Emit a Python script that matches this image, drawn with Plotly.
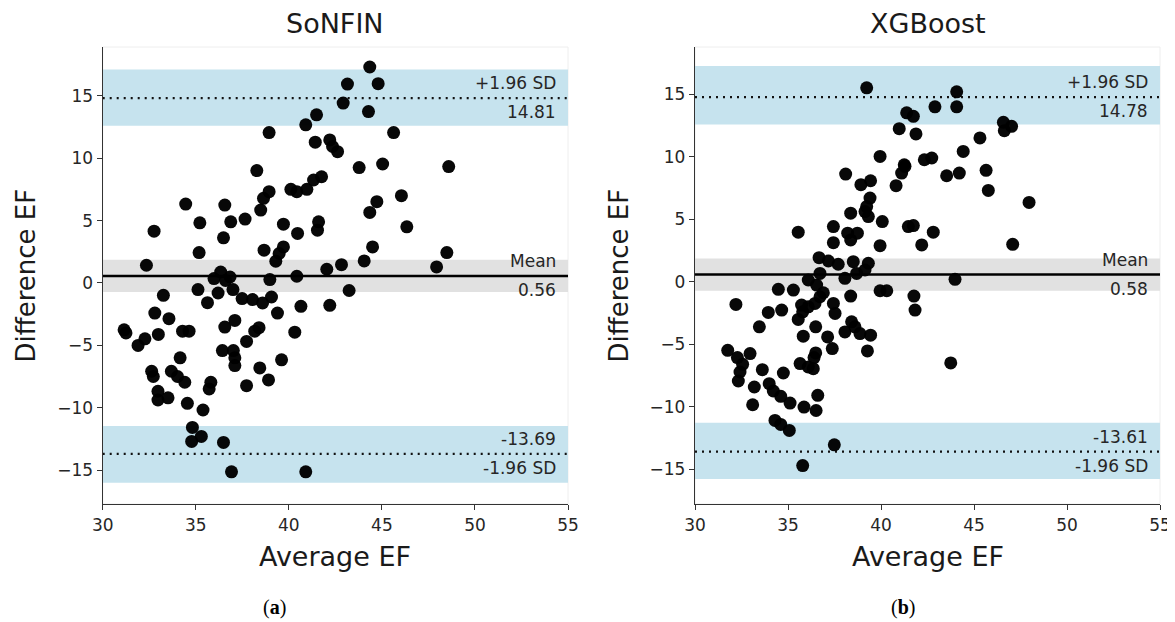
import plotly.graph_objects as go

# ---------------- data ----------------
sonfin_avg = [32.35, 32.76, 34.46, 35.22, 35.18, 36.56, 36.49, 36.88, 37.65, 38.94,
              38.28, 38.49, 38.64, 38.94, 38.67, 38.98, 39.71, 39.71, 39.48, 39.30,
              40.47, 40.11, 40.43, 40.97, 41.33, 41.76, 40.91, 41.49, 41.42, 41.60,
              41.54, 40.43, 35.98, 36.34, 36.84, 36.60, 44.35, 43.15, 44.80, 42.92,
              44.28, 45.63, 42.20, 42.35, 42.62, 43.78, 45.04, 48.59, 46.05, 44.73,
              44.35, 46.34, 44.50, 44.05, 42.83, 42.04, 48.49, 47.94, 43.24, 42.20,
              31.15, 31.25, 31.90, 32.27, 33.26, 32.80, 32.99, 33.56, 32.63, 32.72,
              32.97, 32.97, 33.51, 33.69, 34.02, 34.41, 34.16, 34.29, 34.64, 34.55,
              35.39, 34.82, 34.78, 35.30, 36.49, 36.92, 40.91, 35.12, 35.63, 36.20,
              35.72, 35.81, 37.00, 37.49, 38.05, 38.59, 39.07, 39.39, 40.65, 36.56,
              37.10, 36.43, 37.02, 37.10, 37.10, 37.73, 38.17, 38.40, 37.73, 38.44,
              38.91, 39.61, 40.32]
sonfin_diff = [1.42, 4.15, 6.32, 4.82, 2.44, 6.24, 3.62, 4.90, 5.12, 12.05,
               9.00, 5.84, 6.78, 7.31, 2.63, 0.27, 4.71, 2.89, 2.36, 1.74,
               3.97, 7.50, 7.31, 7.50, 8.25, 8.51, 12.67, 13.47, 11.28, 4.90,
               4.23, 0.54, 0.35, 0.88, 0.48, 0.20, 17.30, 15.93, 15.96, 14.41,
               13.73, 12.05, 11.46, 10.93, 10.52, 9.24, 9.53, 9.32, 6.99, 6.51,
               5.65, 4.50, 2.89, 1.77, 1.47, 1.10, 2.44, 1.29, -0.60, -1.79,
               -3.75, -4.00, -5.00, -4.47, -0.99, -2.41, -4.12, -2.86, -7.07, -7.49,
               -8.67, -9.37, -9.20, -7.07, -7.49, -7.95, -5.99, -3.86, -3.86, -9.64,
               -10.17, -11.57, -12.69, -12.29, -12.77, -15.12, -15.12, -0.53, -1.58, -0.80,
               -8.48, -7.95, -0.53, -1.25, -1.33, -1.60, -1.12, -2.41, -1.87, -3.53,
               -3.00, -5.41, -5.41, -5.99, -6.61, -4.68, -3.86, -3.58, -8.22, -6.80,
               -7.76, -6.15, -3.94]

xgb_avg = [39.23, 40.98, 39.95, 41.25, 41.11, 40.81, 38.10, 38.92, 39.44, 39.41,
           39.23, 39.14, 39.32, 38.37, 40.07, 41.47, 37.44, 38.21, 38.73, 38.37,
           37.44, 35.55, 39.95, 36.67, 37.17, 37.70, 38.51, 39.32, 36.72, 38.69,
           39.14, 38.06, 36.09, 32.20, 34.48, 35.29, 33.94, 34.66, 33.46, 31.76,
           32.28, 32.96, 32.56, 32.42, 32.33, 33.19, 33.62, 33.10, 34.75, 33.99,
           34.21, 34.61, 35.11, 34.30, 34.61, 35.07, 37.49, 35.79, 35.86, 36.51,
           36.60, 35.65, 36.09, 36.36, 36.40, 36.49, 35.82, 36.49, 35.55, 35.79,
           35.73, 36.09, 36.45, 36.72, 36.90, 36.54, 37.44, 37.53, 37.13, 37.38,
           38.37, 38.06, 38.42, 38.60, 38.87, 39.44, 39.27, 39.95, 40.31, 41.77,
           41.83, 43.75, 43.98, 44.07, 44.07, 42.90, 41.38, 41.74, 41.88, 46.58,
           47.02, 46.63, 45.32, 44.42, 42.33, 42.73, 41.29, 43.53, 44.21, 45.65,
           45.77, 47.96, 41.74, 42.81, 42.19, 47.08]
xgb_diff = [15.53, 12.26, 10.04, 9.37, 8.70, 7.69, 8.62, 7.77, 8.09, 6.70,
            6.02, 5.62, 5.22, 5.49, 4.82, 4.42, 4.42, 3.89, 3.89, 3.35,
            3.13, 3.97, 2.89, 1.93, 1.66, 1.40, 1.61, 1.48, 0.67, 0.67,
            0.94, 0.27, 0.14, -1.82, -0.61, -0.67, -2.46, -2.27, -3.61, -5.49,
            -6.07, -5.75, -6.61, -7.23, -7.95, -8.43, -7.04, -9.85, -7.31, -8.16,
            -8.75, -9.18, -9.72, -11.11, -11.43, -11.91, -13.06, -14.72, -10.04, -10.31,
            -9.10, -6.55, -6.83, -6.96, -6.07, -5.70, -4.36, -3.61, -3.02, -2.41,
            -1.87, -2.01, -1.74, -1.20, -0.88, -0.27, -1.74, -2.54, -4.42, -5.35,
            -1.15, -4.02, -3.21, -3.61, -4.15, -4.28, -5.54, -0.72, -0.72, -1.15,
            -2.27, -6.50, 0.19, 15.21, 14.01, 14.01, 13.53, 13.25, 11.84, 12.77,
            12.45, 12.10, 11.52, 10.44, 9.77, 9.91, 9.24, 8.49, 8.70, 8.92,
            7.31, 6.35, 4.50, 3.97, 2.95, 3.00]

titles = ["SoNFIN", "XGBoost"]
panel_labels = ["a", "b"]
means = [0.56, 0.58]
upper_loa = [14.81, 14.78]
lower_loa = [-13.69, -13.61]
upper_ci = [[12.60, 17.10], [12.60, 17.27]]
lower_ci = [[-16.00, -11.45], [-15.80, -11.30]]
mean_ci = [[-0.72, 1.86], [-0.72, 1.86]]
x_ticks = [30, 35, 40, 45, 50, 55]
y_ticks = [-15, -10, -5, 0, 5, 10, 15]

# ---------------- layout ----------------
W, H = 1175, 622
OFF = 8  # page offset of the plot div (body margin)
FONT = "DejaVu Sans"
TXT = "#262626"
BLUE = "#c6e3ee"
GREY = "#e1e1e1"


def px(v):
    return (v - OFF) / W


def py(v):
    return 1 - (v - OFF) / H


x_domains = [[px(102.7), px(568)], [px(695), px(1160)]]
y_domain = [py(504), py(47)]
y_ranges = [[-17.7, 18.9], [-17.8, 18.8]]

fig = go.Figure()
series = [(sonfin_avg, sonfin_diff), (xgb_avg, xgb_diff)]

shapes = []
annotations = []
for i in range(2):
    xa = "x" if i == 0 else "x2"
    ya = "y" if i == 0 else "y2"
    xs, ys = series[i]
    fig.add_trace(go.Scatter(x=xs, y=ys, mode="markers", xaxis=xa, yaxis=ya,
                             marker=dict(size=13, color="black", opacity=0.97),
                             showlegend=False, hoverinfo="x+y"))
    shapes.append(dict(type="rect", xref=xa + " domain", yref=ya + " domain",
                       x0=0, x1=1, y0=0, y1=1, line=dict(color="#eeeeee", width=1),
                       layer="below"))
    for band, col in [(upper_ci[i], BLUE), (lower_ci[i], BLUE), (mean_ci[i], GREY)]:
        shapes.append(dict(type="rect", xref=xa + " domain", yref=ya,
                           x0=0, x1=1, y0=band[0], y1=band[1],
                           fillcolor=col, line=dict(width=0), layer="below"))
    shapes.append(dict(type="line", xref=xa + " domain", yref=ya, x0=0, x1=1,
                       y0=means[i], y1=means[i], line=dict(color="black", width=2.6),
                       layer="below"))
    for v in (upper_loa[i], lower_loa[i]):
        shapes.append(dict(type="line", xref=xa + " domain", yref=ya, x0=0, x1=1,
                           y0=v, y1=v, line=dict(color="#111111", width=2.2, dash="2px,5px"),
                           layer="below"))
    labels = [("+1.96 SD", upper_loa[i], 15), (f"{upper_loa[i]:.2f}", upper_loa[i], -14),
              ("Mean", means[i], 15), (f"{means[i]:.2f}", means[i], -14),
              (f"{lower_loa[i]:.2f}", lower_loa[i], 15), ("-1.96 SD", lower_loa[i], -14)]
    for txt, yv, sh in labels:
        annotations.append(dict(text=txt, xref=xa + " domain", yref=ya, x=1, y=yv,
                                xanchor="right", yanchor="middle", xshift=-10, yshift=sh,
                                showarrow=False, font=dict(family=FONT, size=17, color=TXT)))
    xc = (x_domains[i][0] + x_domains[i][1]) / 2
    annotations.append(dict(text=titles[i], xref="paper", yref="paper", x=xc, y=py(24),
                            xanchor="center", yanchor="middle", showarrow=False,
                            font=dict(family=FONT, size=27, color="#1a1a1a")))
    annotations.append(dict(text="Average EF", xref="paper", yref="paper", x=xc, y=py(556),
                            xanchor="center", yanchor="middle", showarrow=False,
                            font=dict(family=FONT, size=27, color="#1a1a1a")))
    annotations.append(dict(text="Difference EF", xref="paper", yref="paper",
                            x=px(25 if i == 0 else 618), y=(y_domain[0] + y_domain[1]) / 2,
                            xanchor="center", yanchor="middle", textangle=-90, showarrow=False,
                            font=dict(family=FONT, size=26, color="#1a1a1a")))
    annotations.append(dict(text=f"(<b>{panel_labels[i]}</b>)", xref="paper", yref="paper",
                            x=px(274 if i == 0 else 903), y=py(607),
                            xanchor="center", yanchor="middle", showarrow=False,
                            font=dict(family="Liberation Serif", size=20, color="black")))

axis_common = dict(showgrid=False, zeroline=False, showline=True, linecolor="#333333",
                   linewidth=1.3, ticks="outside", ticklen=5, tickwidth=1.2, automargin=False,
                   tickcolor="#333333", tickfont=dict(family=FONT, size=17, color=TXT))

fig.update_layout(
    width=W, height=H, margin=dict(l=0, r=0, t=0, b=0, pad=0, autoexpand=False),
    paper_bgcolor="white", plot_bgcolor="white",
    shapes=shapes, annotations=annotations,
    xaxis=dict(domain=x_domains[0], range=[30, 55], tickvals=x_ticks, anchor="y", **axis_common),
    yaxis=dict(domain=y_domain, range=y_ranges[0], tickvals=y_ticks, anchor="x", **axis_common),
    xaxis2=dict(domain=x_domains[1], range=[30, 55], tickvals=x_ticks, anchor="y2", **axis_common),
    yaxis2=dict(domain=y_domain, range=y_ranges[1], tickvals=y_ticks, anchor="x2", **axis_common),
)

fig.write_html("out.html")
